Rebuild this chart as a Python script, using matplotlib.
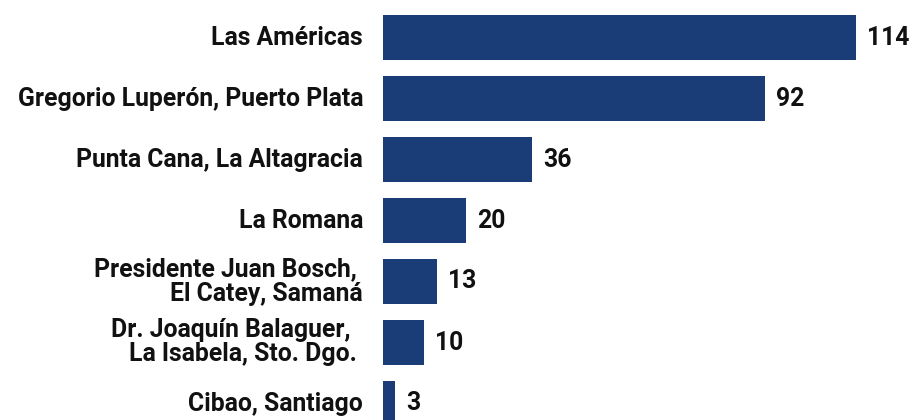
import matplotlib
matplotlib.use("Agg")
import matplotlib.pyplot as plt

categories = [
    "Las Américas",
    "Gregorio Luperón, Puerto Plata",
    "Punta Cana, La Altagracia",
    "La Romana",
    "Presidente Juan Bosch, \nEl Catey, Samaná",
    "Dr. Joaquín Balaguer,  \nLa Isabela, Sto. Dgo. ",
    "Cibao, Santiago",
]
values = [114, 92, 36, 20, 13, 10, 3]

bar_color = "#1a3d77"
text_color = "#111111"

plt.rcParams['font.family'] = ['Roboto', 'DejaVu Sans']

fig = plt.figure(figsize=(9.11, 4.2), dpi=100)
ax = fig.add_axes([0, 0, 1, 1])

px_per_unit = 473 / 114.0
x0 = 383
ax.set_xlim(-x0 / px_per_unit, (911 - x0) / px_per_unit)
ax.set_ylim((420 - 37.5) / 61.0, -37.5 / 61.0)

pos = list(range(len(values)))
ax.barh(pos, values, height=45 / 61.0, color=bar_color)

gap_label = 20 / px_per_unit
gap_val = 11 / px_per_unit
for i, (c, v) in enumerate(zip(categories, values)):
    ax.text(-gap_label, i, c, ha="right", va="center", fontsize=17.8,
            fontweight="bold", color=text_color, linespacing=1.0)
    ax.text(v + gap_val, i, str(v), ha="left", va="center", fontsize=17.8,
            fontweight="bold", color=text_color)

ax.axis("off")
fig.savefig("out.png", dpi=100)
